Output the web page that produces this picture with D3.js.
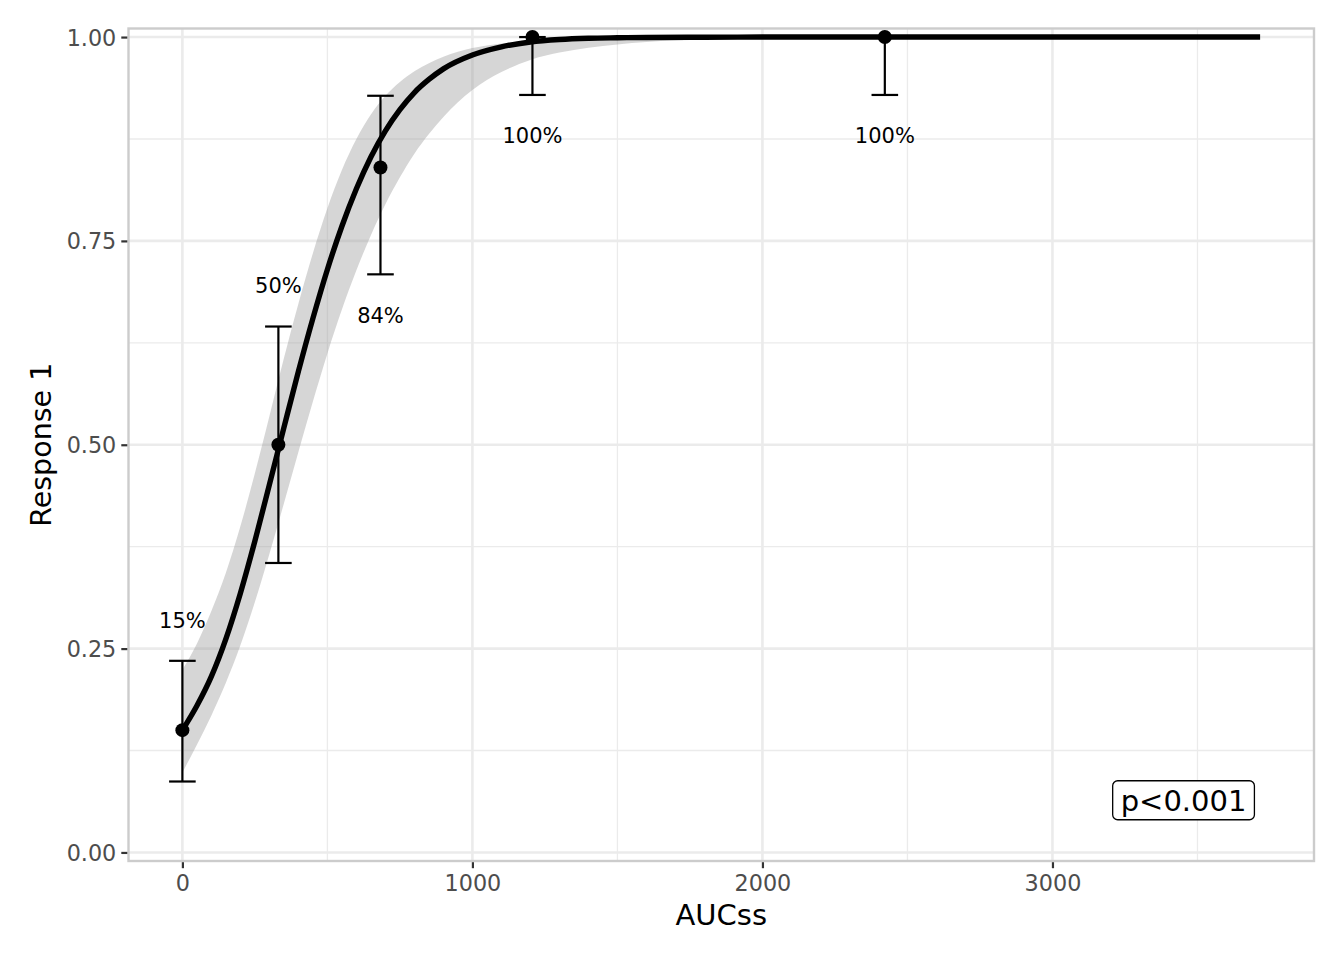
<!DOCTYPE html>
<html><head><meta charset="utf-8">
<script src="https://cdn.jsdelivr.net/npm/d3@7"></script>
<style>body{margin:0;background:#fff}svg{display:block}text{font-family:"DejaVu Sans",sans-serif}</style>
</head><body><svg id="c" width="1344" height="960"></svg>
<script>
// observed proportions
const doseX = [0, 331, 683, 1207, 2422];
const respY = [0.15, 0.50, 0.84, 1.00, 1.00];
const errLow = [0.087, 0.355, 0.709, 0.929, 0.929];
const errHigh = [0.235, 0.645, 0.928, 1.00, 1.00];
const pctLabels = ["15%", "50%", "84%", "100%", "100%"];
const labelY = [0.285, 0.695, 0.659, 0.879, 0.879];
// fitted curve and confidence band
const fitX = [0,50,100,150,200,250,300,350,400,450,500,550,600,650,700,750,800,850,900,1000,1100,1200,1300,1400,1500,1600,1800,2000,2500,3000,3716];
const fitY = [0.150,0.180,0.216,0.262,0.318,0.382,0.451,0.521,0.590,0.655,0.715,0.768,0.814,0.853,0.885,0.911,0.932,0.948,0.961,0.978,0.988,0.994,0.997,0.9985,0.9991,0.9995,0.9998,1.0,1.0,1.0,1.0];
const fitLow = [0.098,0.132,0.168,0.208,0.254,0.307,0.366,0.428,0.491,0.553,0.612,0.666,0.714,0.757,0.795,0.828,0.857,0.881,0.902,0.935,0.957,0.972,0.981,0.987,0.991,0.994,0.997,0.9986,0.9998,1.0,1.0];
const fitHigh = [0.224,0.256,0.296,0.343,0.400,0.465,0.535,0.606,0.673,0.735,0.790,0.837,0.875,0.905,0.928,0.945,0.958,0.968,0.976,0.9865,0.9922,0.9955,0.9974,0.9985,0.9991,0.9995,0.9998,1.0,1.0,1.0,1.0];
const xTicks = [0, 1000, 2000, 3000];
const xMinor = [500, 1500, 2500, 3500];
const yTicks = [0, 0.25, 0.5, 0.75, 1.0];
const yMinor = [0.125, 0.375, 0.625, 0.875];
const pText = "p<0.001";
const pPos = [3452, 0.064];
const xTitle = "AUCss", yTitle = "Response 1";

const svg = d3.select("#c");
const L = 128.5, R = 1314, T = 28.5, B = 861;
const xr = [0, 3716], xe = (xr[1]-xr[0])*0.05;
const x = d3.scaleLinear().domain([xr[0]-xe, xr[1]+xe]).range([L, R]);
const y = d3.scaleLinear().domain([-0.0105, 1.0105]).range([B, T]);

const g = svg.append("g");
// grid
g.selectAll(".xm").data(xMinor).join("line").attr("x1",d=>x(d)).attr("x2",d=>x(d)).attr("y1",T).attr("y2",B).attr("stroke","#EBEBEB").attr("stroke-width",1.3);
g.selectAll(".ym").data(yMinor).join("line").attr("y1",d=>y(d)).attr("y2",d=>y(d)).attr("x1",L).attr("x2",R).attr("stroke","#EBEBEB").attr("stroke-width",1.3);
g.selectAll(".xM").data(xTicks).join("line").attr("x1",d=>x(d)).attr("x2",d=>x(d)).attr("y1",T).attr("y2",B).attr("stroke","#EBEBEB").attr("stroke-width",2.6);
g.selectAll(".yM").data(yTicks).join("line").attr("y1",d=>y(d)).attr("y2",d=>y(d)).attr("x1",L).attr("x2",R).attr("stroke","#EBEBEB").attr("stroke-width",2.6);

const fit = fitX.map((d,i)=>({x:d, y:fitY[i], lo:fitLow[i], hi:fitHigh[i]}));
g.append("path").datum(fit).attr("fill","#999999").attr("fill-opacity",0.4)
  .attr("d", d3.area().curve(d3.curveMonotoneX).x(d=>x(d.x)).y0(d=>y(d.lo)).y1(d=>y(d.hi)));
g.append("path").datum(fit).attr("fill","none").attr("stroke","#000").attr("stroke-width",5.4).attr("stroke-linejoin","round")
  .attr("d", d3.line().curve(d3.curveMonotoneX).x(d=>x(d.x)).y(d=>y(d.y)));

const pts = doseX.map((d,i)=>({x:d, y:respY[i], lo:errLow[i], hi:errHigh[i], lab:pctLabels[i], ly:labelY[i]}));
const eb = g.selectAll(".eb").data(pts).join("g");
eb.append("line").attr("x1",d=>x(d.x)).attr("x2",d=>x(d.x)).attr("y1",d=>y(d.lo)).attr("y2",d=>y(d.hi)).attr("stroke","#000").attr("stroke-width",2.2);
eb.append("line").attr("x1",d=>x(d.x)-13.3).attr("x2",d=>x(d.x)+13.3).attr("y1",d=>y(d.lo)).attr("y2",d=>y(d.lo)).attr("stroke","#000").attr("stroke-width",2.2);
eb.append("line").attr("x1",d=>x(d.x)-13.3).attr("x2",d=>x(d.x)+13.3).attr("y1",d=>y(d.hi)).attr("y2",d=>y(d.hi)).attr("stroke","#000").attr("stroke-width",2.2);
g.selectAll(".pt").data(pts).join("circle").attr("cx",d=>x(d.x)).attr("cy",d=>y(d.y)).attr("r",7).attr("fill","#000");
g.selectAll(".lab").data(pts).join("text").attr("x",d=>x(d.x)).attr("y",d=>y(d.ly)).attr("dy","0.36em")
  .attr("text-anchor","middle").attr("font-size",21).attr("fill","#000").text(d=>d.lab);

// p-value label
const pt = g.append("text").attr("x",x(pPos[0])).attr("y",y(pPos[1])).attr("dy","0.36em").attr("text-anchor","middle")
  .attr("font-size",29).attr("fill","#000").text(pText);
const bb = pt.node().getBBox();
g.insert("rect","text:last-of-type").attr("x",bb.x-8).attr("y",y(pPos[1])-19.5).attr("width",bb.width+16).attr("height",39)
  .attr("rx",5).attr("fill","#fff").attr("stroke","#000").attr("stroke-width",1.3);
pt.raise();

// border
g.append("rect").attr("x",L).attr("y",T).attr("width",R-L).attr("height",B-T).attr("fill","none").attr("stroke","#CCCCCC").attr("stroke-width",2.4);

// axes
const xa = svg.append("g").attr("transform",`translate(0,${B+1.2})`).call(d3.axisBottom(x).tickValues(xTicks).tickFormat(d3.format("d")).tickSize(6).tickPadding(7));
const ya = svg.append("g").attr("transform",`translate(${L-1.2},0)`).call(d3.axisLeft(y).tickValues(yTicks).tickFormat(d3.format(".2f")).tickSize(6).tickPadding(5));
[xa,ya].forEach(a=>{a.select(".domain").remove();a.selectAll(".tick line").attr("stroke","#333333").attr("stroke-width",2.2);
  a.selectAll(".tick text").attr("font-size",22.3).attr("fill","#4D4D4D").attr("font-family","DejaVu Sans");});
ya.selectAll(".tick text").attr("dy","0.36em");

svg.append("text").attr("x",(L+R)/2).attr("y",925).attr("text-anchor","middle").attr("font-size",29).attr("fill","#000").text(xTitle);
svg.append("text").attr("transform",`translate(51,${(T+B)/2}) rotate(-90)`).attr("text-anchor","middle").attr("font-size",28.5).attr("fill","#000").text(yTitle);
</script></body></html>
